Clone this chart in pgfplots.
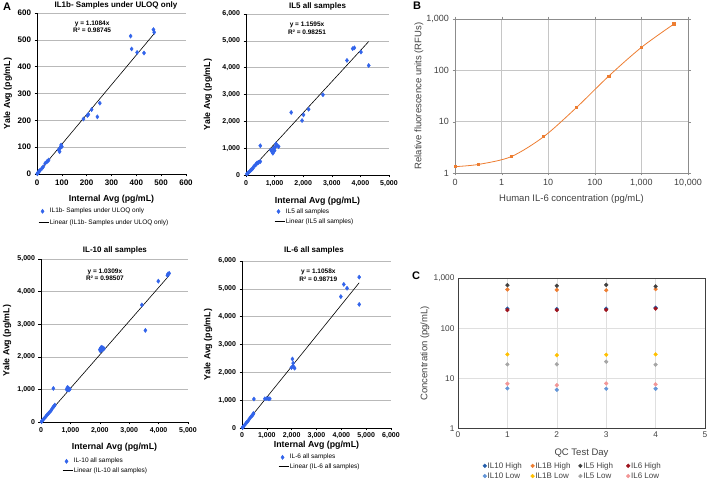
\documentclass[border=0pt]{standalone}
\usepackage{fontspec}
\setmainfont{Liberation Sans}
\usepackage{pgfplots}
\pgfplotsset{compat=1.18}

\definecolor{ablue}{RGB}{50,100,235}
\definecolor{borange}{RGB}{237,125,49}
\definecolor{txtgray}{RGB}{64,64,64}
\definecolor{c10h}{RGB}{36,94,170}
\definecolor{c1bh}{RGB}{237,125,49}
\definecolor{c5h}{RGB}{64,64,64}
\definecolor{c6h}{RGB}{158,20,30}
\definecolor{c10l}{RGB}{100,150,215}
\definecolor{c1bl}{RGB}{255,192,0}
\definecolor{c5l}{RGB}{165,165,165}
\definecolor{c6l}{RGB}{242,150,150}

\tikzset{
  eqn/.style={font=\bfseries\fontsize{6.5}{7.5}\selectfont, align=center},
  ttl/.style={font=\bfseries\fontsize{8}{9.5}\selectfont, anchor=center},
}

\pgfplotsset{
  panelA/.style={
    scale only axis, anchor=south west,
    axis lines=left, axis line style={-,black,line width=0.6pt},
    tick align=outside, major tick length=2.5pt, tick style={black,line width=0.5pt},
    ymajorgrids, grid style={gray!55,line width=0.5pt},
    xmin=0, ymin=0, scaled ticks=false,
    /pgf/number format/assume math mode=true,
    tick label style={font=\bfseries\fontsize{7}{8}\selectfont},
    xlabel={Internal Avg (pg/mL)}, ylabel={Yale Avg (pg/mL)},
    label style={font=\bfseries\fontsize{8.8}{10}\selectfont},
    legend style={draw=none, fill=none, font=\fontsize{6.5}{7.5}\selectfont,
      anchor=north west, inner sep=0pt, nodes={inner sep=1pt}, row sep=1pt},
    legend cell align=left,
    clip=false,
  },
  scat/.style={only marks, mark=diamond*, mark size=2.1pt, color=ablue,
    legend image code/.code={\draw[##1] plot coordinates {(4pt,0pt)};}},
  trend/.style={black, line width=0.6pt,
    legend image code/.code={\draw[##1] (0pt,0pt) -- (10pt,0pt);}},
  cdot/.style={only marks, mark=*, mark size=1.9pt, color=#1,
    legend image code/.code={\draw[##1] plot coordinates {(0pt,0pt)};}},
}

\begin{document}
\begin{tikzpicture}
\path[use as bounding box] (0pt,0pt) rectangle (709pt,484pt);

% ---------- A: IL1b ----------
\begin{axis}[panelA, at={(37pt,310pt)}, width=149pt, height=161pt,
  xmax=600, ymax=600, xtick distance=100, ytick distance=100,
  tick label style={font=\bfseries\fontsize{8}{9}\selectfont},
  xlabel style={at={(axis description cs:0.5,-0.155)}, anchor=center},
  ylabel style={at={(axis description cs:-0.195,0.5)}, anchor=center},
  legend style={at={(axis description cs:0.007,-0.205)}, row sep=3pt}]
\addplot[scat] coordinates {
  (469,538) (472,528) (377,514) (381,466) (403,453) (431,451)
  (253,264) (243,213) (220,240) (207,222) (203,218) (187,205)
  (97,108) (93,96) (91,83) (100,102) (87,90) (95,100)
  (40,46) (33,40) (47,52) (43,48) (25,27) (20,21) (13,15) (10,11) (7,9) (5,5) (3,3) (1,1)
};
\addlegendentry{IL1b- Samples under ULOQ only}
\addplot[trend] coordinates {(0,0) (472,523.2)};
\addlegendentry{Linear (IL1b- Samples under ULOQ only)}
\node[eqn] at (axis description cs:0.37,0.915) {y = 1.1084x\\R² = 0.98745};
\node[ttl] at (axis description cs:0.53,1.045) {IL1b- Samples under ULOQ only};
\end{axis}

% ---------- A: IL5 ----------
\begin{axis}[panelA, at={(246pt,309pt)}, width=143pt, height=161pt,
  xmax=5000, ymax=6000, xtick distance=1000, ytick distance=1000,
  xlabel style={at={(axis description cs:0.5,-0.16)}, anchor=center},
  ylabel style={at={(axis description cs:-0.266,0.5)}, anchor=center},
  legend style={at={(axis description cs:0.196,-0.2)}, row sep=2pt}]
\addplot[scat] coordinates {
  (3730,4710) (3790,4740) (3530,4270) (4020,4580) (4290,4080)
  (2690,2990) (2190,2450) (2010,2240) (1960,2030) (1580,2330)
  (500,1090) (910,870) (970,960) (1030,1060) (1080,1100) (1140,1060)
  (870,930) (1000,910) (1050,1160) (940,810) (960,1000)
  (500,500) (440,470) (410,450) (380,440) (350,400) (330,370) (270,310)
  (240,250) (210,220) (180,190) (150,160) (90,90) (60,60) (30,40)
};
\addlegendentry{IL5 all samples}
\addplot[trend] coordinates {(0,0) (4290,4974.3)};
\addlegendentry{Linear (IL5 all samples)}
\node[eqn] at (axis description cs:0.427,0.911) {y = 1.1595x\\R² = 0.98251};
\node[ttl] at (axis description cs:0.5,1.05) {IL5 all samples};
\end{axis}

% ---------- A: IL-10 ----------
\begin{axis}[panelA, at={(41pt,62pt)}, width=147pt, height=163pt,
  xmax=5000, ymax=5000, xtick distance=1000, ytick distance=1000,
  xlabel style={at={(axis description cs:0.5,-0.153)}, anchor=center},
  ylabel style={at={(axis description cs:-0.231,0.5)}, anchor=center},
  legend style={at={(axis description cs:0.143,-0.215)}}]
\addplot[scat] coordinates {
  (4320,4540) (4360,4560) (4300,4500) (3990,4320) (3430,3590) (3550,2810)
  (2000,2220) (2030,2260) (2060,2230) (2100,2280) (2080,2200) (2140,2250)
  (2020,2180) (2050,2290)
  (420,1030) (870,1000) (900,1060) (930,1040) (950,980) (980,1010) (900,1000)
  (470,520) (440,480) (400,440) (360,380) (330,340) (290,300) (250,260)
  (200,210) (160,160) (120,120) (80,80) (40,40) (20,10)
};
\addlegendentry{IL-10 all samples}
\addplot[trend] coordinates {(0,0) (4360,4494.7)};
\addlegendentry{Linear (IL-10 all samples)}
\node[eqn] at (axis description cs:0.435,0.902) {y = 1.0309x\\R² = 0.98507};
\node[ttl] at (axis description cs:0.503,1.055) {IL-10 all samples};
\end{axis}

% ---------- A: IL-6 ----------
\begin{axis}[panelA, at={(242pt,56pt)}, width=149pt, height=167pt,
  xmax=6000, ymax=6000, xtick distance=1000, ytick distance=1000,
  xticklabel style={yshift=1.5pt},
  xlabel style={at={(axis description cs:0.5,-0.105)}, anchor=center},
  ylabel style={at={(axis description cs:-0.228,0.5)}, anchor=center},
  legend style={at={(axis description cs:0.242,-0.15)}}]
\addplot[scat] coordinates {
  (4720,5420) (4720,4440) (4100,5160) (4230,5020) (3980,4720)
  (2030,2480) (2060,2330) (1990,2170) (2120,2150) (2060,2210) (2080,2190)
  (480,1040) (920,1050) (1000,1060) (1060,1050) (1120,1050)
  (460,520) (440,480) (400,440) (350,390) (300,330) (250,260)
  (200,210) (150,160) (100,100) (50,40) (20,20)
};
\addlegendentry{IL-6 all samples}
\addplot[trend] coordinates {(0,0) (4720,5219.4)};
\addlegendentry{Linear (IL-6 all samples)}
\node[eqn] at (axis description cs:0.512,0.914) {y = 1.1058x\\R² = 0.98719};
\node[ttl] at (axis description cs:0.483,1.066) {IL-6 all samples};
\end{axis}

% ---------- B ----------
\begin{axis}[scale only axis, anchor=south west, at={(455pt,311pt)},
  width=233pt, height=154pt,
  xmode=log, ymode=log, xmin=0.1, xmax=10000, ymin=1, ymax=1000,
  xtick={0.1,1,10,100,1000,10000}, xticklabels={0,1,10,100,{1,000},{10,000}},
  ytick={1,10,100,1000}, yticklabels={1,10,100,{1,000}},
  xminorticks=false, yminorticks=false,
  grid=major, grid style={gray!45,line width=0.5pt},
  axis line style={gray!90,line width=0.6pt},
  tick align=outside, major tick length=2.5pt, tick style={gray!90},
  /pgf/number format/assume math mode=true,
  tick label style={font=\fontsize{9}{10}\selectfont, text=txtgray},
  label style={font=\fontsize{9.5}{11}\selectfont, text=txtgray},
  xlabel={Human IL-6 concentration (pg/mL)},
  ylabel={Relative fluorescence units (RFUs)},
  xlabel style={at={(axis description cs:0.5,-0.169)}, anchor=center},
  ylabel style={at={(axis description cs:-0.155,0.5)}, anchor=center},
  clip=false]
\addplot[borange, line width=0.8pt, smooth, mark=square*, mark size=1.1pt]
  coordinates {(0.1,1.33) (0.32,1.47) (1.6,2.08) (8,5.1) (40,18.7) (200,77.5) (1000,280) (5000,800)};
\end{axis}

% ---------- C ----------
\begin{axis}[scale only axis, anchor=south west, at={(458pt,55.5pt)},
  width=247pt, height=150.5pt,
  ymode=log, xmin=0, xmax=5, ymin=1, ymax=1000,
  xtick={0,1,2,3,4,5},
  ytick={1,10,100,1000}, yticklabels={1,10,100,{1,000}}, yminorticks=false,
  grid=major, grid style={gray!25,line width=0.5pt},
  axis line style={txtgray,line width=0.8pt}, major tick length=0pt,
  /pgf/number format/assume math mode=true,
  tick label style={font=\fontsize{8.3}{9}\selectfont, text=txtgray},
  label style={font=\fontsize{9.5}{11}\selectfont, text=txtgray},
  xlabel={QC Test Day}, ylabel={Concentration (pg/mL)},
  xlabel style={at={(axis description cs:0.5,-0.163)}, anchor=center},
  ylabel style={at={(axis description cs:-0.134,0.5)}, anchor=center},
  legend columns=4,
  legend style={at={(axis description cs:0.1,-0.216)}, anchor=north west,
    draw=none, fill=none, font=\fontsize{8}{9}\selectfont, text=txtgray,
    inner sep=0pt, nodes={inner sep=1pt}, row sep=1pt},
  legend cell align=left, clip=false]
\addplot[cdot=c10h] coordinates {(1,245) (2,240) (3,245) (4,255)};
\addlegendentry{\makebox[42pt][l]{IL10 High}}
\addplot[cdot=c1bh] coordinates {(1,590) (2,580) (3,570) (4,600)};
\addlegendentry{\makebox[42pt][l]{IL1B High}}
\addplot[cdot=c5h] coordinates {(1,720) (2,700) (3,730) (4,680)};
\addlegendentry{\makebox[42pt][l]{IL5 High}}
\addplot[cdot=c6h] coordinates {(1,230) (2,230) (3,232) (4,245)};
\addlegendentry{\makebox[42pt][l]{IL6 High}}
\addplot[cdot=c10l] coordinates {(1,6.3) (2,5.9) (3,6.2) (4,6.2)};
\addlegendentry{\makebox[42pt][l]{IL10 Low}}
\addplot[cdot=c1bl] coordinates {(1,30) (2,29) (3,29.5) (4,30)};
\addlegendentry{\makebox[42pt][l]{IL1B Low}}
\addplot[cdot=c5l] coordinates {(1,19) (2,19) (3,21.5) (4,18.7)};
\addlegendentry{\makebox[42pt][l]{IL5 Low}}
\addplot[cdot=c6l] coordinates {(1,7.8) (2,7.3) (3,7.9) (4,7.6)};
\addlegendentry{\makebox[42pt][l]{IL6 Low}}
\end{axis}

\node[font=\bfseries\fontsize{11}{12}\selectfont] at (7pt,477pt) {A};
\node[font=\bfseries\fontsize{11}{12}\selectfont] at (417pt,478pt) {B};
\node[font=\bfseries\fontsize{11}{12}\selectfont] at (416pt,208pt) {C};
\end{tikzpicture}
\end{document}
